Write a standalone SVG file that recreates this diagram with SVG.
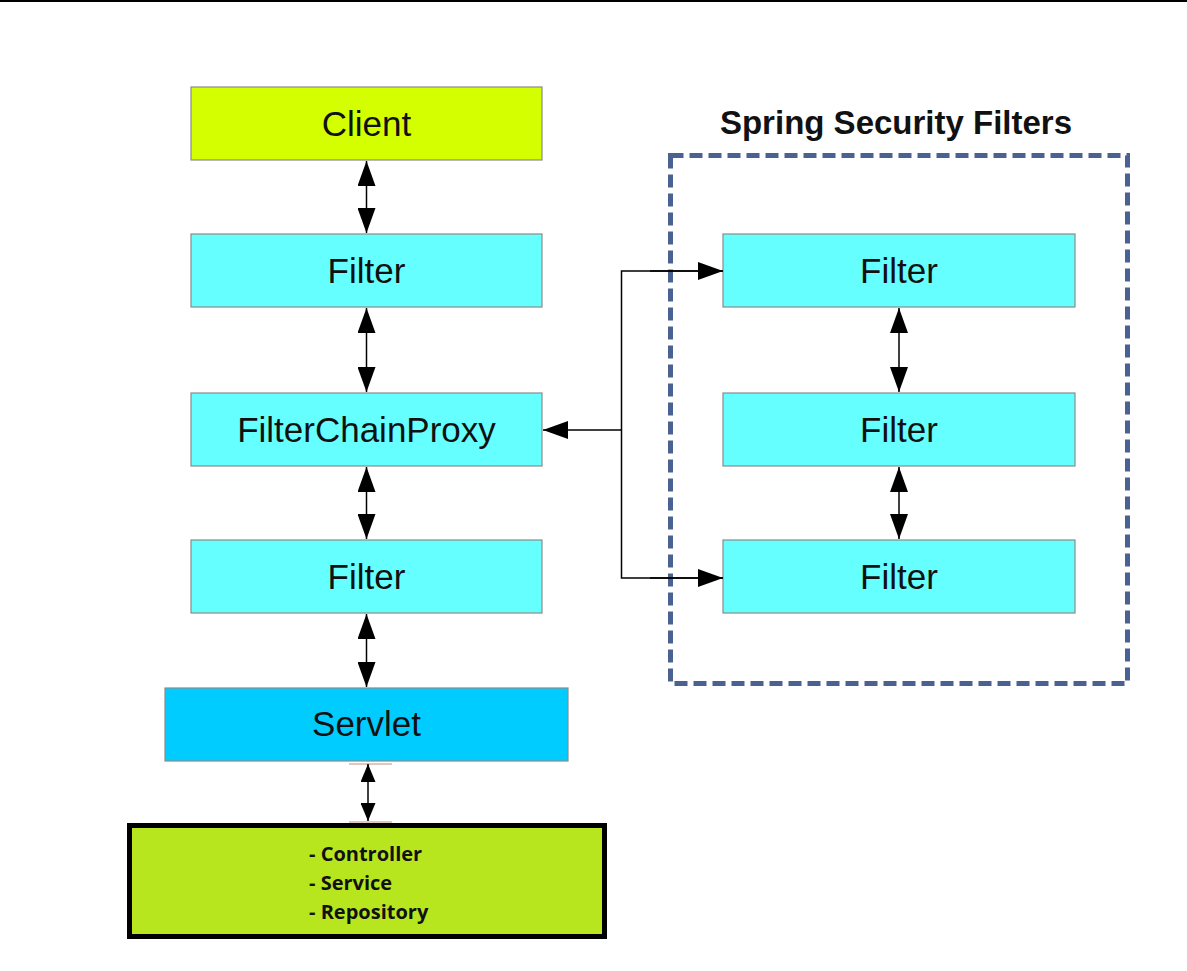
<svg xmlns="http://www.w3.org/2000/svg" width="1187" height="971" viewBox="0 0 1187 971">
<defs>
<style>
.box{stroke:#8a8a8a;stroke-width:1.2}
.lbl{font-family:"Liberation Sans",Arial,sans-serif;font-size:35px;fill:#111;text-anchor:middle}
.item{font-family:"Open Sans","Liberation Sans",sans-serif;font-size:20px;font-weight:bold;fill:#111}
.con{stroke:#000;stroke-width:1.5;fill:none}
</style>
<marker id="ah" markerUnits="userSpaceOnUse" markerWidth="25" markerHeight="18" refX="25" refY="9" orient="auto-start-reverse">
<path d="M0,0 L25,9 L0,18 z" fill="#000"/>
</marker>
<marker id="ahs" markerUnits="userSpaceOnUse" markerWidth="18" markerHeight="15" refX="18" refY="7.5" orient="auto-start-reverse">
<path d="M0,0 L18,7.5 L0,15 z" fill="#000"/>
</marker>
</defs>
<rect x="0" y="0" width="1187" height="971" fill="#fff"/>
<rect x="0" y="0" width="1187" height="2" fill="#000"/>

<g id="group-spring-security">
<rect x="670.5" y="155.5" width="457" height="528" fill="none" stroke="#4a6291" stroke-width="5" stroke-dasharray="13 6"/>
<text x="896" y="134" font-family="'Liberation Sans',Arial,sans-serif" font-size="33" font-weight="bold" fill="#111" text-anchor="middle">Spring Security Filters</text>
</g>

<g id="node-client"><rect class="box" x="191" y="87" width="351" height="73" fill="#d4ff00" stroke="#9a9060"/><text class="lbl" x="366.5" y="136">Client</text></g>
<g id="node-filter1"><rect class="box" x="191" y="234" width="351" height="73" fill="#66ffff"/><text class="lbl" x="366.5" y="283">Filter</text></g>
<g id="node-fcp"><rect class="box" x="191" y="393" width="351" height="73" fill="#66ffff"/><text class="lbl" x="366.5" y="442">FilterChainProxy</text></g>
<g id="node-filter2"><rect class="box" x="191" y="540" width="351" height="73" fill="#66ffff"/><text class="lbl" x="366.5" y="589">Filter</text></g>
<g id="node-servlet"><rect class="box" x="165" y="688" width="403" height="73" fill="#00ccff"/><text class="lbl" x="366.5" y="736">Servlet</text></g>
<g id="node-app"><rect x="129.5" y="825.5" width="475" height="111" fill="#b8e61e" stroke="#000" stroke-width="5"/>
<text class="item" x="309" y="861">- Controller</text>
<text class="item" x="309" y="890">- Service</text>
<text class="item" x="309" y="919">- Repository</text></g>

<g id="node-sf1"><rect class="box" x="723" y="234" width="352" height="73" fill="#66ffff"/><text class="lbl" x="899" y="283">Filter</text></g>
<g id="node-sf2"><rect class="box" x="723" y="393" width="352" height="73" fill="#66ffff"/><text class="lbl" x="899" y="442">Filter</text></g>
<g id="node-sf3"><rect class="box" x="723" y="540" width="352" height="73" fill="#66ffff"/><text class="lbl" x="899" y="589">Filter</text></g>

<g id="connectors">
<line class="con" x1="366.5" y1="161" x2="366.5" y2="233" marker-start="url(#ah)" marker-end="url(#ah)"/>
<line class="con" x1="366.5" y1="308" x2="366.5" y2="392" marker-start="url(#ah)" marker-end="url(#ah)"/>
<line class="con" x1="366.5" y1="467" x2="366.5" y2="539" marker-start="url(#ah)" marker-end="url(#ah)"/>
<line class="con" x1="366.5" y1="614" x2="366.5" y2="687" marker-start="url(#ah)" marker-end="url(#ah)"/>
<line x1="349" y1="764" x2="392" y2="764" stroke="#c09080" stroke-width="1"/>
<line x1="349" y1="822" x2="392" y2="822" stroke="#c09080" stroke-width="1"/>
<line class="con" x1="368" y1="764" x2="368" y2="821" marker-start="url(#ahs)" marker-end="url(#ahs)"/>
<line class="con" x1="899" y1="308" x2="899" y2="392" marker-start="url(#ah)" marker-end="url(#ah)"/>
<line class="con" x1="899" y1="467" x2="899" y2="539" marker-start="url(#ah)" marker-end="url(#ah)"/>
<line class="con" x1="621" y1="430" x2="543" y2="430" marker-end="url(#ah)"/>
<path class="con" d="M723,271 H621.5 V578 H723"/>
<line class="con" x1="650" y1="271" x2="723" y2="271" marker-end="url(#ah)"/>
<line class="con" x1="650" y1="578" x2="723" y2="578" marker-end="url(#ah)"/>
</g>
</svg>
